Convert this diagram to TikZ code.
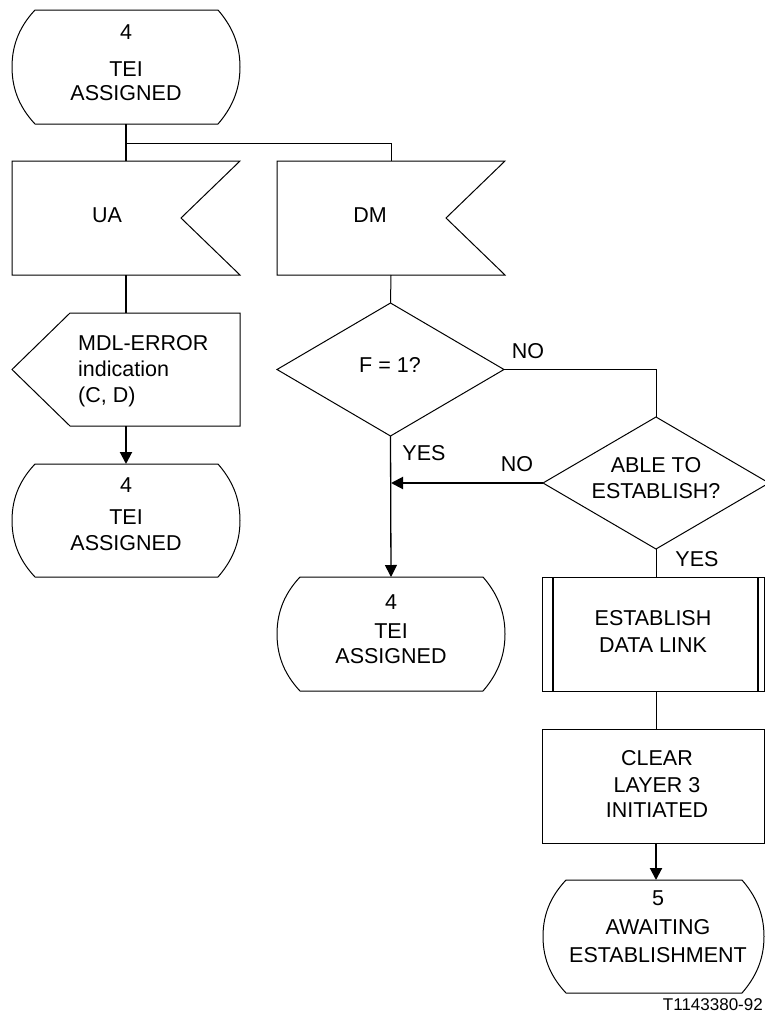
\documentclass[tikz,border=0pt]{standalone}
\usepackage{fontspec}
\setmainfont{Liberation Sans}
\usetikzlibrary{calc,arrows.meta}

% SDL-style outlines drawn around sized, invisible nodes
\newcommand{\stateoutline}[1]{%
  \draw[outline] ($(#1.north west)+(23,0)$) -- ($(#1.north east)+(-22,0)$)
    .. controls ($(#1.north east)+(-9,15)$) and ($(#1.east)+(0,-24)$) .. (#1.east)
    .. controls ($(#1.east)+(0,24)$) and ($(#1.south east)+(-9,-15)$) .. ($(#1.south east)+(-22,0)$)
    -- ($(#1.south west)+(23,0)$)
    .. controls ($(#1.south west)+(9,-15)$) and ($(#1.west)+(0,24)$) .. (#1.west)
    .. controls ($(#1.west)+(0,-24)$) and ($(#1.north west)+(9,15)$) .. cycle;}
\newcommand{\receiveoutline}[1]{%
  \draw[outline] (#1.north west) -- (#1.north east) -- ($(#1.east)+(-59,0)$)
    -- (#1.south east) -- (#1.south west) -- cycle;}
\newcommand{\sendoutline}[1]{%
  \draw[outline] ($(#1.north west)+(58,0)$) -- (#1.north east) -- (#1.south east)
    -- ($(#1.south west)+(58,0)$) -- (#1.west) -- cycle;}
\newcommand{\decisionoutline}[1]{%
  \draw[outline] (#1.north) -- (#1.east) -- (#1.south) -- (#1.west) -- cycle;}

\begin{document}
\begin{tikzpicture}[x=1pt,y=-1pt,
  font=\fontsize{21.5}{25}\selectfont,
  area/.style={draw=none,inner sep=0pt,outer sep=0pt,rectangle},
  txt/.style={inner sep=0pt,anchor=base,align=center},
  outline/.style={line width=1pt,line join=miter},
  thinline/.style={line width=1pt},
  thickline/.style={line width=2pt},
  arr/.style={-{Triangle[length=12pt,width=12pt]}}]

\useasboundingbox (0,0) rectangle (764,1017);

% ---- shape frames ----
\node[area,minimum width=228pt,minimum height=114pt] (s1)  at (126,67) {};
\node[area,minimum width=228pt,minimum height=114pt] (ua)  at (126,218) {};
\node[area,minimum width=228pt,minimum height=114pt] (dm)  at (391,218) {};
\node[area,minimum width=228pt,minimum height=113pt] (mdl) at (126,369.5) {};
\node[area,minimum width=228pt,minimum height=113pt] (s2)  at (126,520.5) {};
\node[area,minimum width=227pt,minimum height=133pt] (d1)  at (390.5,369.5) {};
\node[area,minimum width=226pt,minimum height=132pt] (d2)  at (656,483) {};
\node[area,minimum width=228pt,minimum height=114pt] (s3)  at (391,634) {};
\node[area,minimum width=222pt,minimum height=114pt] (edl) at (653,634) {};
\node[area,minimum width=222pt,minimum height=114pt] (clr) at (653,786) {};
\node[area,minimum width=221pt,minimum height=113pt] (s5)  at (653.5,936.5) {};

\stateoutline{s1}
\receiveoutline{ua}
\receiveoutline{dm}
\sendoutline{mdl}
\stateoutline{s2}
\decisionoutline{d1}
\decisionoutline{d2}
\stateoutline{s3}
\draw[outline] (edl.north west) rectangle (edl.south east);
\draw[thickline] ($(edl.north west)+(11,0)$) -- ($(edl.south west)+(11,0)$);
\draw[thickline] ($(edl.north east)+(-6,0)$) -- ($(edl.south east)+(-6,0)$);
\draw[outline] (clr.north west) rectangle (clr.south east);
\stateoutline{s5}

% ---- texts (placed by the baseline of their last line) ----
\node[txt] (s1t) at (126,100) {4\\[12pt]TEI\\[-1pt]ASSIGNED};
\node[txt] (uat) at (107,222) {UA};
\node[txt] (dmt) at (370,222) {DM};
\node[txt,align=left,anchor=base west] (mdlt) at (78,402) {MDL-ERROR\\[1pt]indication\\[1pt](C, D)};
\node[txt] (s2t) at (126,550) {4\\[7pt]TEI\\[1pt]ASSIGNED};
\node[txt] (d1t) at (390,372) {F = 1?};
\node[txt] (d2t) at (656,498) {ABLE TO\\[1pt]ESTABLISH?};
\node[txt] (s3t) at (391,663) {4\\[4pt]TEI\\ASSIGNED};
\node[txt] (edlt) at (653,652) {ESTABLISH\\[2pt]DATA LINK};
\node[txt] (clrt) at (657,817) {CLEAR\\[2pt]LAYER 3\\INITIATED};
\node[txt] (s5t) at (658,962) {5\\[4pt]AWAITING\\[3pt]ESTABLISHMENT};

% ---- branch labels ----
\node[txt] (no1)  at (528,358) {NO};
\node[txt] (no2)  at (517,471) {NO};
\node[txt] (yes1) at (424,460) {YES};
\node[txt] (yes2) at (697,566) {YES};
\node[txt,anchor=base east,font=\fontsize{17}{20}\selectfont] (ref) at (763,1010) {T1143380-92};

% ---- connectors ----
\coordinate (fork) at (126,143);
\coordinate (join) at (391,483);
\draw[thickline] (s1.south) -- (ua.north);
\draw[thinline] (fork) -| (dm.north);
\draw[thickline] (ua.south) -- (mdl.north);
\draw[thickline,arr] (mdl.south) -- (s2.north);
\draw[thinline] (dm.south) -- (d1.north);
\draw[thinline] (d1.east) -| (d2.north);
\draw[line width=1.3pt,arr] (d1.south) -- (s3.north);
\draw[thickline,arr] (d2.west) -- (join);
% right-hand column runs straight down from the second decision
\draw[thinline] (d2.south) -- (d2.south |- edl.north);
\draw[thinline] (d2.south |- edl.south) -- (d2.south |- clr.north);
\draw[thickline,arr] (d2.south |- clr.south) -- (d2.south |- s5.north);
\end{tikzpicture}
\end{document}
